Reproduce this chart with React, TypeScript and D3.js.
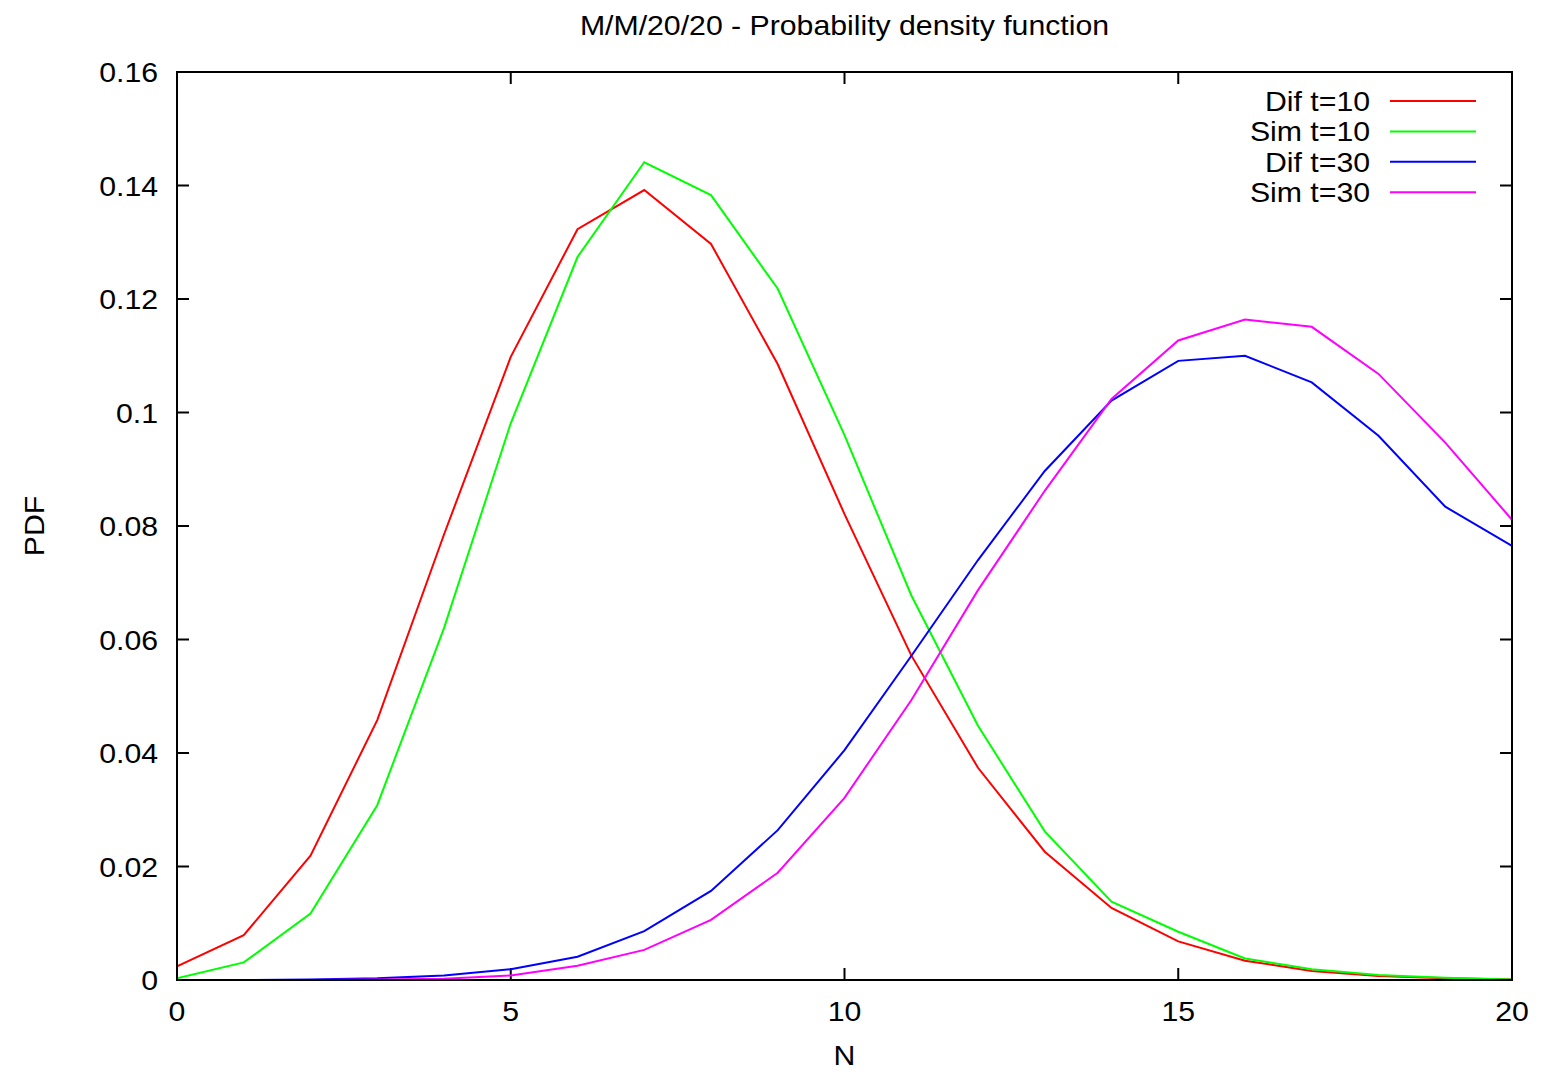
import React from "react";
import * as d3 from "d3";

const nValues = d3.range(0, 21);
const difT10 = [0.0024, 0.0079, 0.0219, 0.0458, 0.0785, 0.1098, 0.1323, 0.1392, 0.1297, 0.1085, 0.0821, 0.0572, 0.0374, 0.0226, 0.0127, 0.0068, 0.0034, 0.0016, 0.0007, 0.0003, 0.0001];
const simT10 = [0.0003, 0.0031, 0.0117, 0.0308, 0.062, 0.0981, 0.1274, 0.1441, 0.1383, 0.1218, 0.096, 0.0678, 0.0448, 0.0262, 0.0138, 0.0085, 0.0038, 0.0019, 0.0009, 0.0004, 0.0001];
const difT30 = [0, 0, 0.0001, 0.0003, 0.0008, 0.0019, 0.0041, 0.0086, 0.0157, 0.0264, 0.0405, 0.0571, 0.074, 0.0897, 0.1021, 0.1091, 0.11, 0.1053, 0.0959, 0.0834, 0.0765];
const simT30 = [0, 0, 0, 0.0001, 0.0002, 0.0008, 0.0025, 0.0053, 0.0106, 0.0189, 0.0321, 0.0493, 0.0687, 0.0862, 0.1024, 0.1127, 0.1164, 0.1151, 0.1068, 0.0947, 0.0811];

const seriesNames = ["Dif t=10", "Sim t=10", "Dif t=30", "Sim t=30"];
const seriesColors = ["#ff0000", "#00ff00", "#0000ff", "#ff00ff"];
const xTicks = [0, 5, 10, 15, 20];
const yTicks = [0, 0.02, 0.04, 0.06, 0.08, 0.1, 0.12, 0.14, 0.16];

const W = 1542;
const H = 1072;
const L = 177, R = 1512, T = 72, B = 980;
const FONT = "'Liberation Sans', Arial, Helvetica, sans-serif";
const FS = 28;
const SX = 1.08;

function Label({ x, y, anchor, children, rotate = 0 }: { x: number; y: number; anchor: string; children: React.ReactNode; rotate?: number }) {
  return (
    <g transform={`translate(${x},${y}) rotate(${rotate}) scale(${SX},1)`}>
      <text x={0} y={0} textAnchor={anchor} fontSize={FS} fill="#000">
        {children}
      </text>
    </g>
  );
}

export default function App() {
  const x = d3.scaleLinear().domain([0, 20]).range([L, R]);
  const y = d3.scaleLinear().domain([0, 0.16]).range([B, T]);
  const line = d3
    .line<number>()
    .x((_, i) => x(nValues[i]))
    .y((v) => y(v));
  const series = [difT10, simT10, difT30, simT30];
  const tickLen = 12;

  return (
    <svg
      width={W}
      height={H}
      style={{ position: "absolute", left: 0, top: 0, background: "#fff" }}
      fontFamily={FONT}
    >
      <rect x={0} y={0} width={W} height={H} fill="#fff" />
      <Label x={(L + R) / 2} y={35} anchor="middle">
        M/M/20/20 - Probability density function
      </Label>

      {yTicks.map((t) => (
        <g key={"y" + t}>
          <line x1={L} x2={L + tickLen} y1={y(t)} y2={y(t)} stroke="#000" strokeWidth={2} />
          <line x1={R} x2={R - tickLen} y1={y(t)} y2={y(t)} stroke="#000" strokeWidth={2} />
          <Label x={158} y={y(t) + 10} anchor="end">
            {d3.format("~g")(t)}
          </Label>
        </g>
      ))}
      {xTicks.map((t) => (
        <g key={"x" + t}>
          <line x1={x(t)} x2={x(t)} y1={B} y2={B - tickLen} stroke="#000" strokeWidth={2} />
          <line x1={x(t)} x2={x(t)} y1={T} y2={T + tickLen} stroke="#000" strokeWidth={2} />
          <Label x={x(t)} y={1021} anchor="middle">
            {t}
          </Label>
        </g>
      ))}

      <Label x={(L + R) / 2} y={1065} anchor="middle">
        N
      </Label>
      <g transform={`translate(44, ${(T + B) / 2}) rotate(-90)`}>
        <text x={0} y={0} textAnchor="middle" fontSize={FS} fill="#000" transform={`scale(${SX},1)`}>
          PDF
        </text>
      </g>

      <defs>
        <clipPath id="plot">
          <rect x={L} y={T} width={R - L} height={B - T} />
        </clipPath>
      </defs>
      <g clipPath="url(#plot)">
        {series.map((s, i) => (
          <path key={i} d={line(s) || ""} fill="none" stroke={seriesColors[i]} strokeWidth={2} strokeLinejoin="miter" />
        ))}
      </g>

      <rect x={L} y={T} width={R - L} height={B - T} fill="none" stroke="#000" strokeWidth={2} />

      {seriesNames.map((name, i) => {
        const yy = 101 + i * 30.4;
        return (
          <g key={name}>
            <Label x={1370} y={yy + 10} anchor="end">
              {name}
            </Label>
            <line x1={1390} x2={1476} y1={yy} y2={yy} stroke={seriesColors[i]} strokeWidth={2} />
          </g>
        );
      })}
    </svg>
  );
}
